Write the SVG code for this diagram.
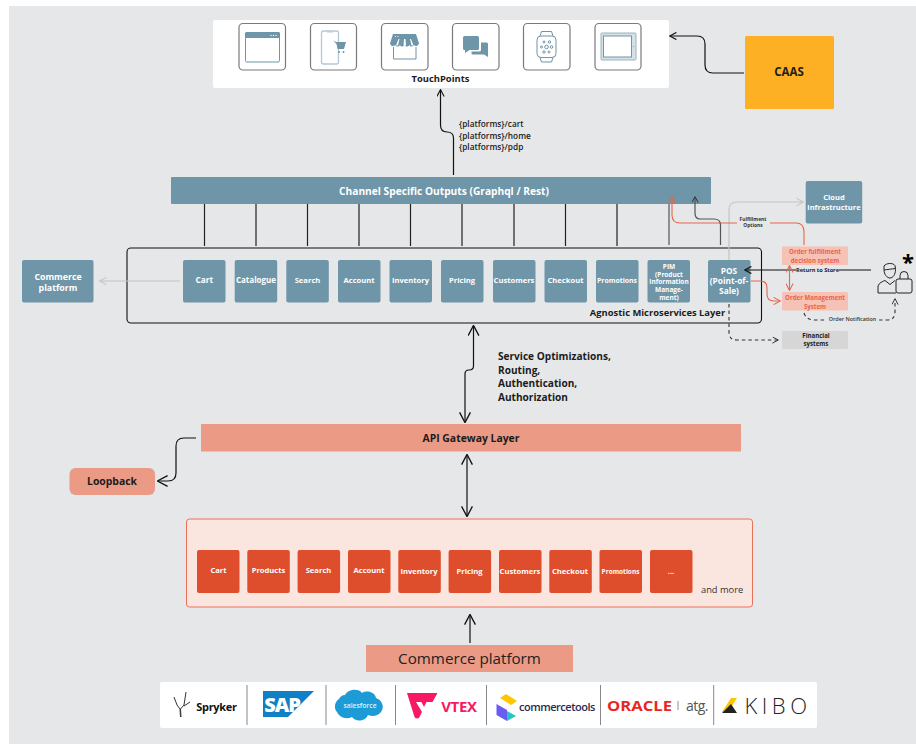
<svg xmlns="http://www.w3.org/2000/svg" width="916" height="744" viewBox="0 0 916 744">
<style>
text{font-family:"Open Sans","Liberation Sans",sans-serif;font-weight:700;text-anchor:middle}
.tw{fill:#fff;font-size:7.600px}
.tp{font-size:6.900px}
.tq{font-size:6.500px}
.tm{font-size:8.300px}
.ts{font-size:6.100px}
.tr{fill:#e8644a;font-size:6.100px}
.tn{text-anchor:start;font-size:10.100px}
.tf{text-anchor:start;font-size:8.300px;font-weight:600;fill:#1c1c1c}
.tk{fill:#1c1c1c}
.blue{fill:#6e95a8}
.svc{fill:#6e95a8;rx:2px}
.org{fill:#de4d2c;rx:2px}
.sal{fill:#eb9a85}
.pink{fill:#f6c2b5;rx:1px}
.ic{fill:#fff;stroke:#7a7a7a;stroke-width:1.200}
.c{fill:none;stroke:#222;stroke-width:1.200}
.g{fill:none;stroke:#555;stroke-width:1.200}
.ar{fill:none;stroke:#111;stroke-width:1.200}
.lg{fill:none;stroke:#c4c4c4;stroke-width:1.200}
.rd{fill:none;stroke:#e5674c;stroke-width:1.100}
.ds{fill:none;stroke:#333;stroke-width:1.100;stroke-dasharray:3.500 3}
.st{fill:#6e95a8;stroke:none}
.sl{fill:none;stroke:#6e95a8;stroke-width:1}
.lab{fill:#333;font-size:5.400px}
</style>
<defs>
<marker id="a" viewBox="0 0 10 10" refX="9" refY="5" markerWidth="8" markerHeight="8" markerUnits="userSpaceOnUse" orient="auto-start-reverse"><path d="M1 .5L9.500 5L1 9.500" fill="none" stroke="#111" stroke-width="1.400"/></marker>
<marker id="ab" viewBox="0 0 10 10" refX="9" refY="5" markerWidth="12" markerHeight="12" markerUnits="userSpaceOnUse" orient="auto-start-reverse"><path d="M1 .5L9.500 5L1 9.500" fill="none" stroke="#111" stroke-width="1.100"/></marker>
<marker id="ar" viewBox="0 0 10 10" refX="9" refY="5" markerWidth="8" markerHeight="8" markerUnits="userSpaceOnUse" orient="auto-start-reverse"><path d="M1 .5L9.500 5L1 9.500" fill="none" stroke="#e5674c" stroke-width="1.300"/></marker>
<marker id="ag" viewBox="0 0 10 10" refX="9" refY="5" markerWidth="8" markerHeight="8" markerUnits="userSpaceOnUse" orient="auto-start-reverse"><path d="M1 .5L9.500 5L1 9.500" fill="none" stroke="#c4c4c4" stroke-width="1.300"/></marker>
<marker id="ad" viewBox="0 0 10 10" refX="9" refY="5" markerWidth="7" markerHeight="7" markerUnits="userSpaceOnUse" orient="auto-start-reverse"><path d="M1 .5L9.500 5L1 9.500" fill="none" stroke="#333" stroke-width="1.400"/></marker>
</defs>
<rect width="916" height="744" fill="#fff"/>
<rect x="9" y="6" width="907" height="738" fill="#e6e7e9"/>

<g id="touchpoints">
<rect x="213" y="20" width="456" height="68" rx="2" fill="#fff"/>
<rect class="ic" x="239" y="23.500" width="46.500" height="46.500" rx="4"/>
<rect class="ic" x="310.500" y="23.500" width="46" height="46.500" rx="4"/>
<rect class="ic" x="381.500" y="23.500" width="46.500" height="46.500" rx="4"/>
<rect class="ic" x="452.500" y="23.500" width="46.500" height="46.500" rx="4"/>
<rect class="ic" x="523.500" y="23.500" width="46.500" height="46.500" rx="4"/>
<rect class="ic" x="595" y="23.500" width="46" height="46.500" rx="4"/>
<rect class="sl" x="245.500" y="32.500" width="34" height="29.500" rx="1.500"/>
<path class="st" d="M245 33.500a1.500 1.500 0 0 1 1.500-1.500h32a1.500 1.500 0 0 1 1.500 1.500V38H245z"/>
<g fill="#fff"><circle cx="271" cy="35.500" r=".7"/><circle cx="273.500" cy="35.500" r=".7"/><circle cx="276" cy="35.500" r=".7"/></g>
<rect x="321.500" y="31" width="17" height="33" rx="2" fill="none" stroke="#b4c9d4" stroke-width="1.300"/>
<path d="M327 31.500h6v1h-6z" fill="#b4c9d4"/>
<path class="st" d="M333 40.500l3 1.500h10l-2 7h-6.500l-1-5z"/>
<circle class="st" cx="339" cy="52" r="1"/><circle class="st" cx="343.500" cy="52" r="1"/>
<path class="st" d="M393 34h23l3 9.500c-1 2.500-3.500 3.500-5 1.500-1.500 2-3.500 2-4.500 0-1.500 2-3.500 2-5 0-1.500 2-3.500 2-4.500 0-1.500 2-3.500 2-5 0-1.500 2-4.500 1-5-1.500z"/>
<path d="M398.500 39l-2.500 6.500h2l1.500-6.500zM404 39l-.5 6.500h2.500l-.5-6.500zM410 39l1.500 6.500h2l-2.500-6.500z" fill="#fff"/>
<circle cx="395.500" cy="36.500" r=".6" fill="#fff"/><circle cx="398" cy="36.500" r=".6" fill="#fff"/>
<path class="sl" stroke-width="1.300" d="M393.500 47v12h22.500V47"/>
<path class="st" d="M464.500 36h13a1.500 1.500 0 0 1 1.500 1.500v11a1.500 1.500 0 0 1-1.500 1.500h-8l-4.500 3v-3h-.5a1.500 1.500 0 0 1-1.500-1.500v-11a1.500 1.500 0 0 1 1.500-1.500z"/>
<path class="st" d="M481 42.500h5.500a1.500 1.500 0 0 1 1.500 1.500V57l-4-2.500H473a1.500 1.500 0 0 1-1.500-1.500v-1.500H479.500a1.500 1.500 0 0 0 1.500-1.500z"/>
<g class="sl"><rect x="537" y="36" width="19" height="21.500" rx="4"/><path d="M540 36l1.500-4.500h10L553 36M540 57.500l1.500 4.500h10l1.500-4.500"/><circle cx="546.500" cy="47" r="1.800"/><circle cx="541.500" cy="47" r="1"/><circle cx="551.500" cy="47" r="1.300"/><circle cx="544" cy="42" r="1"/><circle cx="549.500" cy="42" r="1.200"/><circle cx="544" cy="52" r="1.200"/><circle cx="549" cy="52" r="1"/></g>
<rect x="601" y="33" width="35" height="27" rx="1" fill="#d5e1e7" stroke="#9ab4c1" stroke-width="1"/>
<rect x="603.500" y="36" width="28" height="21" fill="#fff" stroke="#6e95a8" stroke-width="1"/>
<circle class="st" cx="633.500" cy="46.500" r=".5"/>
<text x="440.500" y="82" class="tk" style="font-size:9.400px">TouchPoints</text>
</g>

<g id="caas"><rect x="745" y="36" width="89" height="73" rx="1.500" fill="#fdb023"/><text x="789" y="76" class="tk" style="font-size:11.500px">CAAS</text></g>

<g id="channel"><rect x="171" y="177" width="540" height="27" rx="1" class="blue"/><text x="444" y="195" fill="#fff" style="font-size:10.200px">Channel Specific Outputs (Graphql / Rest)</text></g>

<g id="platform-labels"><text x="459" y="127" class="tf">{platforms}/cart</text><text x="459" y="138.500" class="tf">{platforms}/home</text><text x="459" y="150" class="tf">{platforms}/pdp</text></g>

<g id="microservices">
<rect x="127" y="248" width="634.500" height="75" rx="4" fill="none" stroke="#111" stroke-width="1.100"/>
<text x="657.500" y="316" class="tk" style="font-size:9.400px">Agnostic Microservices Layer</text>
</g>
<g id="svc-cart"><rect class="svc" x="183" y="260" width="42.500" height="42.500"/><text class="tw" x="204.300" y="283" style="font-size:8.300px">Cart</text></g>
<g id="svc-catalogue"><rect class="svc" x="234.700" y="260" width="42.500" height="42.500"/><text class="tw" x="256" y="283" style="font-size:8px">Catalogue</text></g>
<g id="svc-search"><rect class="svc" x="286.300" y="260" width="42.500" height="42.500"/><text class="tw" x="307.500" y="283">Search</text></g>
<g id="svc-account"><rect class="svc" x="338" y="260" width="42.500" height="42.500"/><text class="tw" x="359" y="283">Account</text></g>
<g id="svc-inventory"><rect class="svc" x="389.500" y="260" width="42.500" height="42.500"/><text class="tw" x="410.500" y="283">Inventory</text></g>
<g id="svc-pricing"><rect class="svc" x="441" y="260" width="42.500" height="42.500"/><text class="tw" x="462" y="283">Pricing</text></g>
<g id="svc-customers"><rect class="svc" x="493" y="260" width="42.500" height="42.500"/><text class="tw" x="514" y="283">Customers</text></g>
<g id="svc-checkout"><rect class="svc" x="544.500" y="260" width="42.500" height="42.500"/><text class="tw" x="565.500" y="283">Checkout</text></g>
<g id="svc-promotions"><rect class="svc" x="596" y="260" width="42.500" height="42.500"/><text class="tw tp" x="617" y="283">Promotions</text></g>
<g id="svc-pim"><rect class="svc" x="647.500" y="260" width="42.500" height="42.500"/><text class="tw tq" x="669" y="268.500">PIM</text><text class="tw tq" x="669" y="276.500">(Product</text><text class="tw tq" x="669" y="284">Information</text><text class="tw tq" x="669" y="292">Manage-</text><text class="tw tq" x="669" y="299.500">ment)</text></g>
<g id="svc-pos"><rect class="svc" x="708" y="260" width="42.500" height="42.500"/><text class="tw tm" x="729" y="274">POS</text><text class="tw tm" x="729" y="284">(Point-of-</text><text class="tw tm" x="729" y="294">Sale)</text></g>

<g id="commerce-platform-side"><rect class="svc" x="22" y="260" width="71.500" height="42.500"/><text class="tw" x="58" y="280" style="font-size:8.800px">Commerce</text><text class="tw" x="58" y="291" style="font-size:8.800px">platform</text></g>
<g id="cloud"><rect class="svc" x="805.700" y="181" width="56.500" height="42.500"/><text class="tw" x="834" y="199.500" style="font-size:7.500px">Cloud</text><text class="tw" x="834" y="209.500" style="font-size:7.500px">infrastructure</text></g>
<g id="fulfilment"><rect class="pink" x="782" y="246.500" width="66" height="18.500"/><text x="815" y="254" class="tr">Order fulfillment</text><text x="815" y="263" class="tr">decision system</text></g>
<g id="oms"><rect class="pink" x="782" y="292" width="66" height="18.500"/><text x="815" y="299.500" class="tr">Order Management</text><text x="815" y="308.500" class="tr">System</text></g>
<g id="financial"><rect x="782" y="331" width="66" height="18" rx="1" fill="#d6d6d6"/><text x="816" y="338" class="tk ts">Financial</text><text x="816" y="346" class="tk ts">systems</text></g>

<g id="customer" fill="none" stroke="#222" stroke-width="1">
<path d="M884 266c2-3 9-3.500 11-.5l.5 4c0 5-2.500 8.500-5.500 8.500s-6-3.500-6-8.500z"/>
<path d="M884 270c3-.5 8-1 11.500-1.500"/>
<path d="M878 293v-6c0-3 3-5 7-6.500l5 4 5-4"/>
<path d="M878 293h18"/>
<rect x="896" y="279" width="16" height="14" rx="2"/>
<path d="M900 279v-3.500a4 4 0 0 1 8 0V279"/>
</g>
<text id="customer-mark" x="908" y="270" fill="#000" style="font-size:22px">*</text>

<g id="api-gateway"><rect x="201" y="424" width="540" height="27.500" class="sal"/><text x="471" y="441.500" class="tk" style="font-size:10.400px">API Gateway Layer</text></g>
<g id="loopback"><rect x="69.500" y="468" width="85.500" height="27" rx="6" class="sal"/><text x="112" y="484.500" class="tk" style="font-size:10.400px">Loopback</text></g>
<g id="gateway-notes"><text x="498" y="360" class="tk tn">Service Optimizations,</text><text x="498" y="374" class="tk tn">Routing,</text><text x="498" y="387" class="tk tn">Authentication,</text><text x="498" y="401" class="tk tn">Authorization</text></g>

<g id="commerce-services">
<rect x="186.500" y="519" width="566" height="88" rx="3" fill="#fbe5df" stroke="#e9705a" stroke-width="1"/>
<text x="701" y="593" style="text-anchor:start;font-size:9.300px;font-weight:500" fill="#333">and more</text>
</g>
<g id="c-cart"><rect class="org" x="197" y="550" width="42.500" height="43"/><text class="tw" x="218.500" y="573">Cart</text></g>
<g id="c-products"><rect class="org" x="247.300" y="550" width="42.500" height="43"/><text class="tw" x="268.500" y="573">Products</text></g>
<g id="c-search"><rect class="org" x="297.600" y="550" width="42.500" height="43"/><text class="tw" x="318.500" y="573">Search</text></g>
<g id="c-account"><rect class="org" x="348" y="550" width="42.500" height="43"/><text class="tw" x="369" y="573">Account</text></g>
<g id="c-inventory"><rect class="org" x="398.300" y="550" width="42.500" height="43"/><text class="tw" x="419" y="574">Inventory</text></g>
<g id="c-pricing"><rect class="org" x="448.600" y="550" width="42.500" height="43"/><text class="tw" x="469.500" y="574">Pricing</text></g>
<g id="c-customers"><rect class="org" x="499" y="550" width="42.500" height="43"/><text class="tw" x="520" y="574">Customers</text></g>
<g id="c-checkout"><rect class="org" x="549.300" y="550" width="42.500" height="43"/><text class="tw" x="570" y="574">Checkout</text></g>
<g id="c-promotions"><rect class="org" x="599.500" y="550" width="42.500" height="43"/><text class="tw tq" x="620.500" y="574">Promotions</text></g>
<g id="c-more"><rect class="org" x="650" y="550" width="42.500" height="43"/><text class="tw" x="671" y="574">...</text></g>

<g id="commerce-platform"><rect x="366" y="645" width="207" height="27" class="sal"/><text x="469.500" y="664" style="font-size:15.200px;font-weight:500" fill="#222">Commerce platform</text></g>

<g id="vendors">
<rect x="160" y="682" width="657" height="46" rx="2" fill="#fff"/>
<path stroke="#888" stroke-width="1" d="M247 685v40M326 685v40M395.500 685v40M486.500 685v40M600.500 685v40M713.700 685v40"/>
<g id="spryker"><path d="M174 697l3 8 3 4 .5 8M186 692l-2 13-3.500 4 .5 8M190 702l-6 4" fill="none" stroke="#333" stroke-width="1"/><text x="216.500" y="710.500" fill="#111" style="font-size:11px;letter-spacing:-.3px">Spryker</text></g>
<g id="sap"><path d="M263 691h51l-26 26h-25z" fill="#0f7fc6"/><text x="282" y="712" fill="#fff" style="font-size:20px;font-weight:800;letter-spacing:-1px">SAP</text></g>
<g id="salesforce"><path d="M345 695c3-6 14-7 17-2 5-3 13-1 14 5 6 2 9 9 5 14-3 4-9 5-13 3-3 7-13 7-16 2-6 3-13 0-15-5-3-3-3-10 2-13 1-2 3-4 6-4z" fill="#1d9bd7"/><text x="360" y="708" fill="#dff2fb" style="font-size:6.800px;font-weight:600">salesforce</text></g>
<g id="vtex"><path d="M407 693h30.500l-5 9h-6l-2.500 5-2.500-5h-5.500l6 10-2.500 5c-1.500 2-3.500 2-5 0z" fill="#f71963"/><text x="459" y="712" fill="#f71963" style="font-size:15px;letter-spacing:-.3px">VTEX</text></g>
<g id="commercetools"><path d="M506 694l11 7-6 4-11-7z" fill="#ffc600"/><path d="M496.500 704l10.500 6v11l-10.500-6z" fill="#6b5cf0"/><path d="M507 711l9 5-9 5z" fill="#26c4c4"/><text x="557" y="711" fill="#2a2a55" style="font-size:11px;font-weight:600;letter-spacing:-.5px">commercetools</text></g>
<g id="oracle-atg"><text x="639.500" y="711" fill="#e8281e" textLength="65" lengthAdjust="spacingAndGlyphs" style="font-size:13.500px">ORACLE</text><path d="M678 701v9" stroke="#777" stroke-width=".8"/><text x="697" y="711" fill="#555" style="font-size:14px;font-weight:400;letter-spacing:-.5px">atg.</text></g>
<g id="kibo"><path d="M722 712l9-14h6l-9 14z" fill="#ffc600"/><path d="M722 713h15l-6-9z" fill="#222"/><text x="778" y="714" fill="#222" style="font-size:22px;font-weight:300;letter-spacing:4.500px">KIBO</text></g>
</g>

<g id="connectors">
<path class="ar" marker-end="url(#a)" d="M744 73H713Q705 73 705 65V44Q705 36 697 36H670"/>
<path class="ar" marker-end="url(#a)" d="M453.500 175V138Q453.500 132 447 132Q440.500 132 440.500 125V90"/>
<path class="c" d="M204.500 204V246M256 204V246M307.500 204V246M359 204V246M410.500 204V246M462 204V246M514 204V246M565.500 204V246M617 204V246"/>
<path class="g" d="M669 204V245"/>
<path class="lg" marker-end="url(#ag)" d="M180 281H100"/>
<path class="lg" marker-end="url(#ag)" d="M729 260V210Q729 202 737 202H803"/>
<path class="rd" marker-end="url(#ar)" d="M804 245V232Q804 223 796 223H680Q672 223 672 215V197"/>
<path class="g" marker-end="url(#ad)" d="M720.500 245V225Q720.500 219 714 219H700Q695 219 695 213V197"/>
<path class="ar" marker-end="url(#a)" d="M871 270H745"/>
<path class="rd" marker-start="url(#ar)" marker-end="url(#ar)" d="M789.500 266V290"/>
<path class="rd" marker-end="url(#ar)" d="M751 281H760Q767 281 767 288V294Q767 301 774 301H780"/>
<path class="ds" marker-end="url(#ad)" d="M729 304V332Q729 340 737 340H778"/>
<path class="ds" marker-end="url(#ad)" d="M804 313Q806 320 815 320H887Q895 320 895 312V299"/>
<path class="ar" marker-start="url(#ab)" marker-end="url(#ab)" d="M473.500 326V366Q473.500 370 469 370Q465 370 465 374V422"/>
<path class="ar" marker-end="url(#ab)" d="M196 438H184Q176 438 176 446V473Q176 481 168 481H158"/>
<path class="ar" marker-start="url(#ab)" marker-end="url(#ab)" d="M467 455V516"/>
<path class="ar" marker-end="url(#ab)" d="M470 643V615"/>
<rect x="737" y="216" width="33" height="12" fill="#e6e7e9"/>
<text x="753" y="221" class="lab" style="font-size:4.900px">Fulfillment</text><text x="753" y="227" class="lab" style="font-size:4.900px">Options</text>
<rect x="796" y="266" width="43" height="8" fill="#e6e7e9"/>
<text x="817.500" y="272" class="lab" style="font-size:5.600px;fill:#222">Return to Store</text>
<rect x="827" y="316" width="50" height="8" fill="#e6e7e9"/>
<text x="852.500" y="321" class="lab" style="font-weight:600">Order Notification</text>
</g>
</svg>
